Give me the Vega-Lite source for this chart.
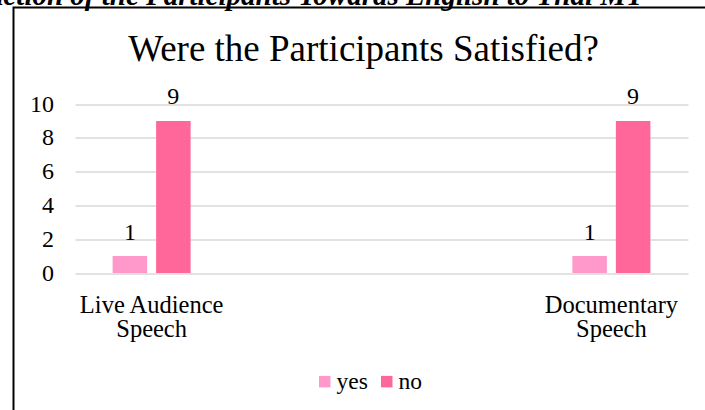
{
  "$schema": "https://vega.github.io/schema/vega-lite/v6.json",
  "autosize": {"type": "none"},
  "padding": {"left": 13.5, "top": 7.5, "right": 0, "bottom": 0},
  "width": 700,
  "height": 410,
  "background": "white",
  "config": {
    "view": {"stroke": "black", "strokeWidth": 2},
    "font": "Liberation Serif"
  },
  "title": {
    "text": "Satisfaction of the Participants Towards English to Thai MT",
    "subtitle": "Were the Participants Satisfied?",
    "font": "Liberation Serif",
    "fontSize": 29,
    "fontWeight": "bold",
    "fontStyle": "italic",
    "color": "black",
    "subtitleFont": "Liberation Serif",
    "subtitleFontSize": 37,
    "subtitleColor": "black",
    "subtitlePadding": 21,
    "anchor": "middle",
    "offset": -60,
    "encoding": {"dx": {"value": -81}}
  },
  "data": {
    "values": [
      {"speech": "Live Audience Speech", "answer": "yes", "count": 1},
      {"speech": "Live Audience Speech", "answer": "no", "count": 9},
      {"speech": "Documentary Speech", "answer": "yes", "count": 1},
      {"speech": "Documentary Speech", "answer": "no", "count": 9}
    ]
  },
  "encoding": {
    "x": {
      "field": "speech",
      "type": "nominal",
      "sort": null,
      "scale": {
        "domain": ["Live Audience Speech", "_gap1", "_gap2", "Documentary Speech"],
        "range": [61.5, 674.5],
        "paddingInner": 0,
        "paddingOuter": 0
      },
      "axis": {
        "orient": "bottom",
        "offset": -144.5,
        "domain": false,
        "ticks": false,
        "tickSize": 0,
        "grid": false,
        "labelPadding": 20,
        "labelFont": "Liberation Serif",
        "labelFontSize": 24.5,
        "labelColor": "black",
        "labelLineHeight": 24.5,
        "labelAngle": 0,
        "labelOverlap": false,
        "labelExpr": "datum.value == 'Live Audience Speech' ? ['Live Audience', 'Speech'] : datum.value == 'Documentary Speech' ? ['Documentary', 'Speech'] : ''",
        "title": null
      }
    },
    "xOffset": {
      "field": "answer",
      "type": "nominal",
      "sort": ["yes", "no"],
      "scale": {"domain": ["yes", "no"], "paddingInner": 0.207, "paddingOuter": 0.865}
    },
    "y": {
      "field": "count",
      "type": "quantitative",
      "scale": {"domain": [-8.55, 15.71], "nice": false, "zero": false},
      "axis": {
        "values": [0, 2, 4, 6, 8, 10],
        "offset": -40,
        "domain": false,
        "ticks": false,
        "tickSize": 0,
        "labelPadding": 0,
        "labelFont": "Liberation Serif",
        "labelFontSize": 24,
        "labelColor": "black",
        "grid": true,
        "gridColor": "#d9d9d9",
        "gridWidth": 1.5,
        "title": null
      }
    }
  },
  "layer": [
    {
      "mark": {"type": "bar"},
      "encoding": {
        "color": {
          "field": "answer",
          "type": "nominal",
          "scale": {"domain": ["yes", "no"], "range": ["#FF99CC", "#FF6699"]},
          "legend": {
            "orient": "none",
            "legendX": 299.5,
            "legendY": 362,
            "direction": "horizontal",
            "title": null,
            "symbolType": "square",
            "symbolSize": 132,
            "symbolStrokeWidth": 0,
            "symbolOpacity": 1,
            "labelFont": "Liberation Serif",
            "labelFontSize": 23.5,
            "labelColor": "black",
            "labelOffset": 0,
            "columnPadding": 7,
            "padding": 0
          }
        }
      }
    },
    {
      "mark": {"type": "text", "baseline": "alphabetic", "dy": -16.5, "fontSize": 24, "font": "Liberation Serif", "color": "black"},
      "encoding": {"text": {"field": "count", "type": "quantitative"}}
    }
  ]
}
